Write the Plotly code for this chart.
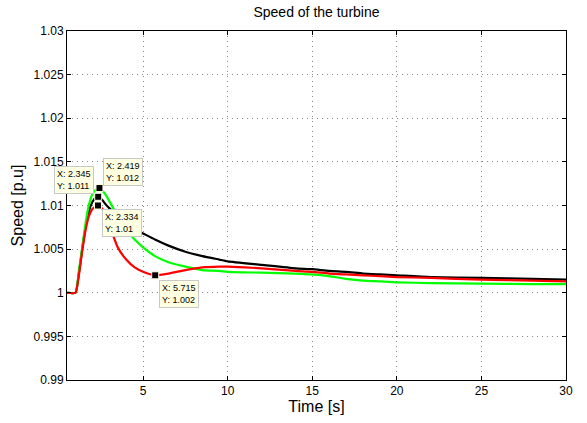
import plotly.graph_objects as go

# time samples [s]
t = [0.5, 1.0, 1.2, 1.4, 1.6, 1.8, 2.0, 2.2, 2.35, 2.42, 2.6, 2.8, 3.0, 3.5, 4.0, 4.5,
     5.0, 5.7, 6.5, 7.5, 8.5, 9.5, 10, 12, 14, 15, 16, 17, 18, 19, 20, 22, 25, 28, 30]

speed_green = [1.0, 1.0, 1.0025, 1.0052, 1.0080, 1.0101, 1.0113, 1.0118, 1.0120, 1.0120, 1.0117,
               1.0112, 1.0105, 1.0088, 1.0073, 1.0061, 1.0052, 1.0042, 1.0035, 1.0030, 1.0026,
               1.0025, 1.0024, 1.0023, 1.0022, 1.0021, 1.0019, 1.0016, 1.0014, 1.0013, 1.0012,
               1.0011, 1.00105, 1.0010, 1.0010]

speed_red = [1.0, 1.0, 1.0020, 1.0048, 1.0072, 1.0088, 1.0096, 1.0099, 1.0100, 1.0099, 1.0096,
             1.0088, 1.0078, 1.0052, 1.0038, 1.0029, 1.0024, 1.0020, 1.0022, 1.0026, 1.0029,
             1.0030, 1.0030, 1.0028, 1.0025, 1.0024, 1.0022, 1.0021, 1.0020, 1.0019, 1.0018,
             1.0017, 1.0015, 1.0014, 1.0013]

speed_black = [1.0, 1.0, 1.0022, 1.0050, 1.0075, 1.0094, 1.0104, 1.0109, 1.0110, 1.0110, 1.0106,
               1.0101, 1.0097, 1.0088, 1.0080, 1.0073, 1.0068, 1.0061, 1.0054, 1.0047, 1.0042,
               1.0038, 1.0036, 1.0032, 1.0028, 1.0027, 1.0025, 1.0024, 1.0022, 1.0021, 1.0020,
               1.0018, 1.0017, 1.0016, 1.0015]

# data tips
tip_x = [2.419, 2.345, 2.334, 5.715]
tip_y = [1.012, 1.011, 1.010, 1.002]
tip_text = ["X: 2.419<br>Y: 1.012", "X: 2.345<br>Y: 1.011", "X: 2.334<br>Y: 1.01", "X: 5.715<br>Y: 1.002"]

xticks = [5, 10, 15, 20, 25, 30]
yticks = [0.99, 0.995, 1.0, 1.005, 1.01, 1.015, 1.02, 1.025, 1.03]
yticklabels = ["0.99", "0.995", "1", "1.005", "1.01", "1.015", "1.02", "1.025", "1.03"]

FONT = "Liberation Sans, Arial, sans-serif"

fig = go.Figure()
for ys, col in [(speed_black, "black"), (speed_green, "#00FF00"), (speed_red, "#FF0000")]:
    fig.add_trace(go.Scatter(x=t, y=ys, mode="lines",
                             line=dict(color=col, width=2.2, shape="spline", smoothing=0.5),
                             showlegend=False, hoverinfo="skip"))

fig.add_trace(go.Scatter(x=tip_x, y=tip_y, mode="markers",
                         marker=dict(symbol="square", size=7, color="black",
                                     line=dict(color="#FFFFE1", width=1)),
                         showlegend=False, hoverinfo="skip"))

# annotation offsets (pixels) for each tip box
offs = [(4, 2, "left", "bottom"), (-4, 3, "right", "bottom"), (4, -3, "left", "top"), (4, -5, "left", "top")]
for x, y, txt, (dx, dy, xa, ya) in zip(tip_x, tip_y, tip_text, offs):
    fig.add_annotation(x=x, y=y, xref="x", yref="y", text=txt, showarrow=False,
                       xanchor=xa, yanchor=ya, xshift=dx, yshift=dy, align="left",
                       font=dict(family=FONT, size=9, color="black"),
                       bgcolor="#FFFFE1", bordercolor="#C8C8C8", borderwidth=1, borderpad=2)

axis_common = dict(showline=True, linecolor="black", linewidth=1, mirror="ticks",
                   ticks="inside", ticklen=4, tickcolor="black",
                   showgrid=True, gridcolor="#888888", gridwidth=1, griddash="1px,4px",
                   zeroline=False, tickfont=dict(family=FONT, size=12, color="black"))

fig.update_layout(
    width=587, height=423,
    margin=dict(l=67, r=21, t=31, b=40),
    paper_bgcolor="white", plot_bgcolor="white",
    title=dict(text="Speed of the turbine", x=0.5, xanchor="center", xref="paper",
               y=1 - 12 / 423, yanchor="middle", font=dict(family=FONT, size=14, color="black")),
    xaxis=dict(range=[0.5, 30], tickvals=xticks,
               title=dict(text="Time [s]", standoff=1, font=dict(family=FONT, size=16, color="black")),
               **axis_common),
    yaxis=dict(range=[0.99, 1.03], tickvals=yticks, ticktext=yticklabels,
               title=dict(text="Speed [p.u]", standoff=5, font=dict(family=FONT, size=16, color="black")),
               **axis_common),
)

fig.write_html("out.html")
